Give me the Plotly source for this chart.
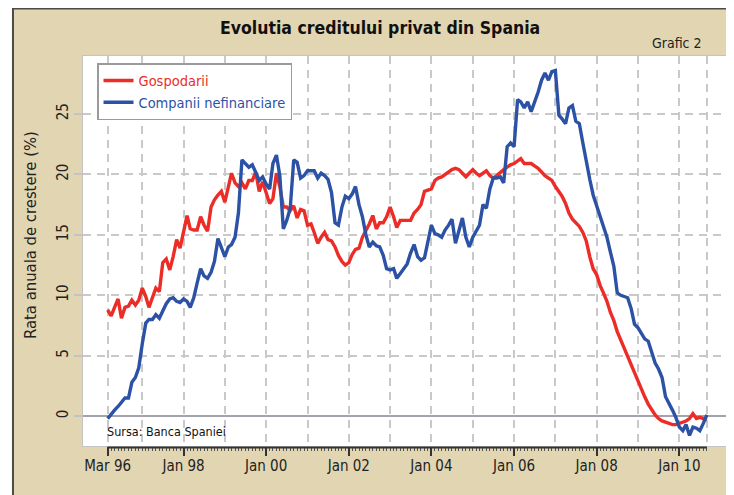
import pandas as pd
import plotly.graph_objects as go

# ---- data (monthly, Mar 1996 .. Sep 2010), annual growth rate, % ----
start_month = "1996-03-01"

gospodarii = [
    8.8, 8.3, 9.0, 9.7, 8.1, 9.0, 9.1, 9.6, 9.2, 9.6,
    10.6, 9.9, 9.0, 9.8, 10.6, 10.3, 12.7, 13.0, 12.1, 13.2,
    14.6, 13.9, 15.2, 16.6, 15.5, 15.4, 15.4, 16.5, 15.8, 15.3,
    17.3, 17.9, 18.3, 18.6, 17.7, 19.0, 20.1, 19.3, 19.0, 19.3,
    18.8, 19.5, 19.5, 20.2, 18.6, 19.4, 18.6, 17.6, 18.0, 20.1,
    19.0, 17.3, 17.3, 17.0, 17.4, 16.4, 17.1, 17.0, 15.8, 15.9,
    15.2, 14.3, 14.8, 15.2, 14.6, 14.5, 14.0, 13.3, 12.8, 12.5,
    12.7, 13.4, 13.8, 13.9, 14.8, 15.3, 15.9, 16.6, 15.5, 16.0,
    16.0, 16.5, 17.3, 16.5, 15.6, 16.2, 16.2, 16.2, 16.2, 16.8,
    17.1, 17.5, 18.6, 18.7, 18.8, 19.5, 19.7, 19.8, 20.0, 20.2,
    20.4, 20.5, 20.4, 20.1, 19.8, 20.1, 20.4, 20.1, 19.9, 20.1,
    20.3, 19.9, 19.7, 19.9, 20.2, 20.4, 20.6, 20.8, 20.9, 21.1,
    21.3, 20.9, 20.9, 20.9, 20.7, 20.5, 20.2, 19.9, 19.7, 19.5,
    19.0, 18.6, 18.2, 17.6, 16.8, 16.3, 16.0, 15.7, 15.2, 14.5,
    13.2, 12.2, 11.7, 10.8, 10.2, 9.5, 8.6, 7.9, 7.0, 6.3,
    5.6, 4.9, 4.2, 3.6, 2.9, 2.2, 1.6, 1.0, 0.5, 0.1,
    -0.2, -0.4, -0.5, -0.6, -0.7, -0.7, -0.6, -0.5, -0.4, -0.2,
    0.2, -0.2, -0.1, -0.2, -0.3,
]

companii = [
    -0.2, 0.2, 0.5, 0.8, 1.2, 1.5, 1.5, 2.8, 3.2, 4.0,
    6.0, 7.7, 8.0, 8.0, 8.4, 8.1, 8.7, 9.3, 9.7, 9.8,
    9.5, 9.4, 9.7, 9.5, 9.0, 9.8, 11.0, 12.2, 11.6, 11.4,
    11.9, 12.8, 14.7, 14.0, 13.2, 14.0, 14.2, 14.8, 16.8, 21.2,
    20.9, 20.6, 20.8, 20.2, 19.5, 19.8, 19.2, 18.8, 20.9, 21.6,
    19.9, 15.5, 16.2, 17.2, 21.2, 21.0, 19.7, 19.9, 20.3, 20.3,
    20.3, 19.7, 20.1, 19.9, 19.6, 18.5, 16.0, 15.8, 17.3, 18.2,
    18.0, 18.4, 19.0, 17.5, 16.5, 15.0, 14.0, 14.4, 14.1, 14.0,
    13.3, 12.2, 12.1, 12.2, 11.4, 11.8, 12.2, 12.6, 13.5, 14.2,
    13.2, 12.9, 13.1, 14.6, 15.8, 15.1, 15.0, 14.8, 15.4, 15.8,
    16.3, 14.3, 15.3, 16.4, 14.8, 14.0, 14.8, 15.4, 15.8, 17.5,
    17.2, 18.8, 19.7, 19.7, 19.8, 19.3, 22.3, 22.6, 22.3, 26.2,
    26.0, 25.5, 26.0, 25.2, 25.9, 26.8, 27.8, 28.4, 27.8, 28.5,
    28.6, 24.9, 24.6, 24.2, 25.5, 25.7, 24.4, 24.2, 22.6, 21.0,
    19.6, 18.3, 17.4, 16.6, 15.6, 14.8, 13.6, 12.4, 10.2, 10.0,
    9.9, 9.8, 8.9, 7.6, 7.3, 6.8, 6.4, 6.2, 5.2, 4.4,
    3.9, 3.2, 1.6, 1.1, 0.5, -0.1, -0.9, -1.2, -0.7, -1.6,
    -0.9, -1.0, -1.2, -0.6, 0.1,
]

series_names = ["Gospodarii", "Companii nefinanciare"]
tick_dates = ["1996-03-01", "1997-01-01", "1998-01-01", "1999-01-01", "2000-01-01",
              "2001-01-01", "2002-01-01", "2003-01-01", "2004-01-01", "2005-01-01",
              "2006-01-01", "2007-01-01", "2008-01-01", "2009-01-01", "2010-01-01",
              "2010-09-01"]
tick_labels = ["Mar 96", "", "Jan 98", "", "Jan 00", "", "Jan 02", "", "Jan 04", "",
               "Jan 06", "", "Jan 08", "", "Jan 10", ""]
y_ticks = [0, 5, 10, 15, 20, 25]

months = pd.date_range(start_month, periods=len(gospodarii), freq="MS")

RED = "#ec2d27"
BLUE = "#2c52a6"
BEIGE = "#e2d6b2"
FONT = "Liberation Sans Narrow, DejaVu Sans Condensed, Arial Narrow, sans-serif"

fig = go.Figure()
fig.add_trace(go.Scatter(
    x=months, y=gospodarii, mode="lines",
    name=f'<span style="color:{RED}">{series_names[0]}</span>',
    line=dict(color=RED, width=3.4)))
fig.add_trace(go.Scatter(
    x=months, y=companii, mode="lines",
    name=f'<span style="color:{BLUE}">{series_names[1]}</span>',
    line=dict(color=BLUE, width=3.4)))

# the page body has an 8px margin, so the figure is sized to fill the rest
fig.update_layout(
    width=726, height=487,
    margin=dict(l=75, r=5, t=48, b=49),
    paper_bgcolor="white",
    plot_bgcolor="white",
    font=dict(family=FONT, size=14, color="#222222"),
    showlegend=True,
    legend=dict(
        x=0.0217, y=0.982, xanchor="left", yanchor="top",
        bgcolor="white", bordercolor="#9a9a9a", borderwidth=1.5,
        font=dict(family=FONT, size=14.5),
        tracegroupgap=0, itemwidth=30,
    ),
    xaxis=dict(
        range=["1995-07-27", "2011-03-16"],
        tickmode="array", tickvals=tick_dates, ticktext=tick_labels,
        ticks="outside", ticklen=9, tickwidth=1.5, tickcolor="#333333",
        ticklabelstandoff=-3,
        showgrid=True, gridcolor="#c9c9c9", griddash="8px,6px", gridwidth=1.5,
        showline=True, linecolor="#c4c4c4", linewidth=1, mirror=True,
        tickfont=dict(size=15, color="#222222"),
        minor=dict(tickmode="array", tickvals=list(months), ticks="outside",
                   ticklen=4, tickwidth=1, tickcolor="#555555", showgrid=False),
        zeroline=False,
    ),
    yaxis=dict(
        range=[-2.47, 29.8],
        tickmode="array", tickvals=y_ticks,
        ticks="outside", ticklen=8, tickwidth=1.5, tickcolor="#c4c4c4",
        showgrid=True, gridcolor="#c9c9c9", griddash="8px,6px", gridwidth=1.5,
        zeroline=True, zerolinecolor="#a4a4ae", zerolinewidth=2,
        showline=True, linecolor="#c4c4c4", linewidth=1, mirror=True,
        tickangle=-90,
        tickfont=dict(size=15, color="#222222"),
    ),
    shapes=[
        dict(type="rect", xref="paper", yref="paper",
             x0=-0.1084, x1=1.03, y0=-0.16, y1=1.1218,
             fillcolor=BEIGE, line=dict(color="#4a4a4a", width=2), layer="below"),
        dict(type="rect", xref="paper", yref="paper",
             x0=0, x1=1, y0=0, y1=1,
             fillcolor="white", line=dict(width=0), layer="below"),
        dict(type="line", xref="x", yref="paper",
             x0=months[0], x1=months[-1], y0=-0.004, y1=-0.004,
             line=dict(color="#333333", width=2), layer="above"),
    ],
    annotations=[
        dict(text="<b>Evolutia creditului privat din Spania</b>", xref="paper", yref="paper",
             x=0.4598, y=1.072, xanchor="center", yanchor="middle", showarrow=False,
             font=dict(family=FONT, size=17.5, color="#111111")),
        dict(text="Grafic 2", xref="paper", yref="paper",
             x=0.9195, y=1.033, xanchor="center", yanchor="middle", showarrow=False,
             font=dict(family=FONT, size=14, color="#222222")),
        dict(text="Rata anuala de crestere (%)", xref="paper", yref="paper",
             x=-0.082, y=0.541, xanchor="center", yanchor="middle", showarrow=False,
             textangle=-90, font=dict(family=FONT, size=16.5, color="#222222")),
        dict(text="Sursa: Banca Spaniei", xref="paper", yref="paper",
             x=0.034, y=0.036, xanchor="left", yanchor="middle", showarrow=False,
             font=dict(family=FONT, size=12.5, color="#111111")),
    ],
)

fig.write_html("out.html")
